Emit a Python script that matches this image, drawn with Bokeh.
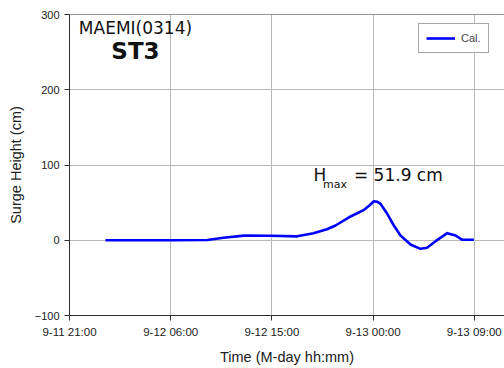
from bokeh.plotting import figure
from bokeh.models import Range1d, FixedTicker, Label, Span, Legend, LegendItem
from bokeh.embed import file_html
from bokeh.resources import INLINE

# ---- data ----
# hours since 9-11 21:00
hours = [3.2, 6.0, 9.0, 12.25, 13.7, 15.5, 17.9, 20.25, 21.7, 22.3, 22.9, 23.66, 25.0,
         26.2, 26.7, 27.07, 27.4, 27.66, 28.26, 28.85, 29.44, 30.33, 31.22, 31.8, 32.56,
         33.6, 34.34, 34.93, 35.96]
surge_cm = [0.0, 0.0, 0.0, 0.3, 3.3, 6.2, 5.9, 5.2, 9.4, 12.1, 14.7, 19.6, 31.6,
            40.4, 46.5, 51.9, 51.0, 48.4, 35.1, 19.6, 6.3, -5.6, -11.4, -10.0, -1.2,
            9.4, 6.3, 0.6, 0.6]
x_tick_values = [0, 9, 18, 27, 36]
x_tick_labels = ["9-11 21:00", "9-12 06:00", "9-12 15:00", "9-13 00:00", "9-13 09:00"]
y_tick_values = [-100, 0, 100, 200, 300]
series_name = "Cal."
title_line1 = "MAEMI(0314)"
title_line2 = "ST3"
hmax_value = 51.9

p = figure(width=504, height=368, output_backend="svg", toolbar_location=None,
           x_range=Range1d(0, 38.69), y_range=Range1d(-100, 300),
           min_border_left=69, min_border_top=14, min_border_bottom=53, min_border_right=0)
p.outline_line_color = None
p.background_fill_color = "white"
p.border_fill_color = "white"

r = p.line(hours, surge_cm, line_color="#0000ff", line_width=2.6, line_join="round")

# axes
for ax in (p.xaxis[0], p.yaxis[0]):
    ax.axis_line_color = "#303030"
    ax.major_tick_line_color = "#303030"
    ax.major_tick_out = 5
    ax.major_tick_in = 0
    ax.minor_tick_line_color = None
    ax.major_label_text_font = "Liberation Sans"
    ax.major_label_text_font_size = "11px"
    ax.major_label_text_color = "#202020"
    ax.axis_label_text_font = "Liberation Sans"
    ax.axis_label_text_font_size = "14.5px"
    ax.axis_label_text_font_style = "normal"
    ax.axis_label_text_color = "#202020"
    ax.major_label_standoff = 5

p.xaxis.ticker = FixedTicker(ticks=x_tick_values)
p.xaxis.major_label_overrides = {v: l for v, l in zip(x_tick_values, x_tick_labels)}
p.xaxis.major_label_text_font_size = "11.5px"
p.xaxis.axis_label = "Time (M-day hh:mm)"
p.xaxis.axis_label_standoff = 8
p.yaxis.ticker = FixedTicker(ticks=y_tick_values)
p.yaxis.axis_label = "Surge Height (cm)"
p.yaxis.axis_label_standoff = 8

p.grid.grid_line_color = "#b8b8b8"
p.grid.grid_line_width = 1

p.add_layout(Span(location=300, dimension="width", line_color="#303030", line_width=1))

# texts
p.add_layout(Label(x=5.87, y=269.4, text=title_line1, text_align="center",
                   text_font="DejaVu Sans", text_font_size="17px", text_color="#111111"))
p.add_layout(Label(x=5.87, y=233.6, text=title_line2, text_align="center",
                   text_font="DejaVu Sans", text_font_style="bold", text_font_size="23px",
                   text_color="#111111"))
p.add_layout(Label(x=21.7, y=72.8, text="H", text_font="DejaVu Sans",
                   text_font_size="17px", text_color="#111111"))
p.add_layout(Label(x=22.55, y=66.0, text="max", text_font="DejaVu Sans",
                   text_font_size="11px", text_color="#111111"))
p.add_layout(Label(x=25.3, y=72.8, text="= %.1f cm" % hmax_value, text_font="DejaVu Sans",
                   text_font_size="17px", text_color="#111111"))

legend = Legend(items=[LegendItem(label=series_name, renderers=[r])],
                location=(349, 262), border_line_color="#505050", border_line_width=1,
                label_text_font="Liberation Sans", label_text_font_size="11px",
                glyph_width=29, glyph_height=14, padding=7, margin=0,
                label_standoff=6, background_fill_alpha=1.0)
p.add_layout(legend, "center")

open("out.html", "w").write(file_html(p, INLINE))
